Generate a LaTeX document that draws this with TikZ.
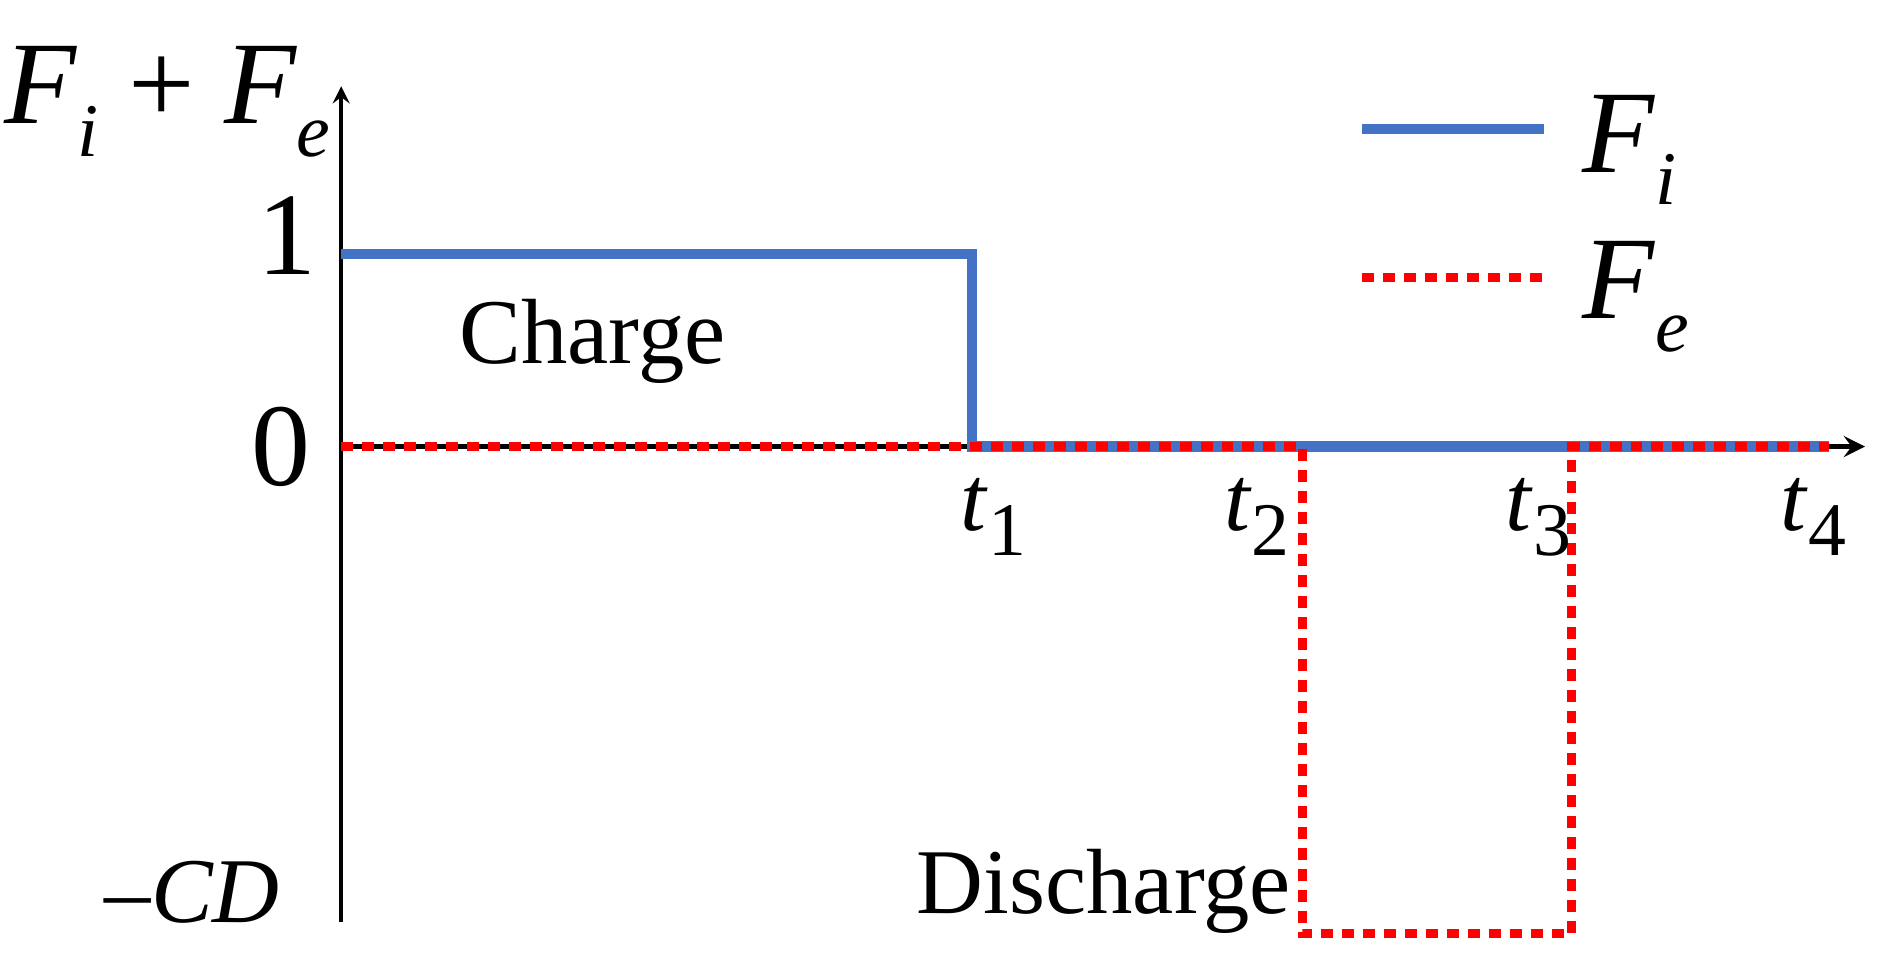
\documentclass[tikz,border=0pt]{standalone}
\usepackage{fontspec}
\setmainfont{Liberation Serif}
\usetikzlibrary{positioning}
\tikzset{
	fi line/.style={line width=2.4pt, color={rgb,255:red,68;green,114;blue,196}},
	fe line/.style={line width=2.2pt, red, dash pattern=on 1.0mm off 0.75mm},
	lbl/.style={font=\fontsize{22}{26}\selectfont, inner sep=1pt},
	big/.style={font=\fontsize{28}{32}\selectfont, inner sep=1pt}
}
\newcommand{\sub}[2]{\textit{#1}\raisebox{-0.6ex}{\fontsize{18}{20}\selectfont #2}}

\begin{document}
\begin{tikzpicture}[x=0.01cm, y=-0.01cm]
	\useasboundingbox (0, 0) rectangle (1568, 808);
	
	% axes
	\coordinate (o) at (285, 373);
	\coordinate (xend) at (1558, 373);
	\coordinate (ybot) at (285, 770);
	\coordinate (yend) at (285, 72);
	\draw[-stealth, line width=0.8pt] (ybot) -- (yend);
	\draw[-stealth, line width=1.2pt] (o) -- (xend);
	
	% curves
	\coordinate (a1) at (285, 212);
	\coordinate (a2) at (812, 212);
	\coordinate (a3) at (812, 373);
	\coordinate (a4) at (1528, 373);
	\draw[fi line] (a1) -- (a2) -- (a3) -- (a4);
	
	\coordinate (b2) at (1088, 373);
	\coordinate (b3) at (1088, 780);
	\coordinate (b4) at (1313, 780);
	\coordinate (b5) at (1313, 373);
	\draw[fe line] (o) -- (b2) -- (b3) -- (b4) -- (b5) -- (a4);
	
	% tick labels
	\node[big] (one) at (240, 197) {1};
	\node[big] (zero) at (235, 373) {0};
	\node[lbl, anchor=east] (cd) at (238, 745) {–\textit{CD}};
	\node[big] (ylab) at (140, 85) {\sub{F}{\textit{i}} + \sub{F}{\textit{e}}};
	
	\node[lbl] (t1) at (830, 432) {\sub{t}{1}};
	\node[lbl] (t2) at (1050, 432) {\sub{t}{2}};
	\node[lbl] (t3) at (1285, 432) {\sub{t}{3}};
	\node[lbl] (t4) at (1515, 432) {\sub{t}{4}};
	
	\node[lbl] (chg) at (495, 285) {Charge};
	\node[lbl] (dchg) at (922, 745) {Discharge};
	
	% legend
	\coordinate (l1) at (1138, 108);
	\coordinate (l2) at (1290, 108);
	\coordinate (l3) at (1138, 232);
	\coordinate (l4) at (1290, 232);
	\draw[fi line] (l1) -- (l2);
	\draw[fe line] (l3) -- (l4);
	\node[big, anchor=west] (lfi) at (1318, 125) {\sub{F}{\textit{i}}};
	\node[big, anchor=west] (lfe) at (1318, 248) {\sub{F}{\textit{e}}};
\end{tikzpicture}
\end{document}
